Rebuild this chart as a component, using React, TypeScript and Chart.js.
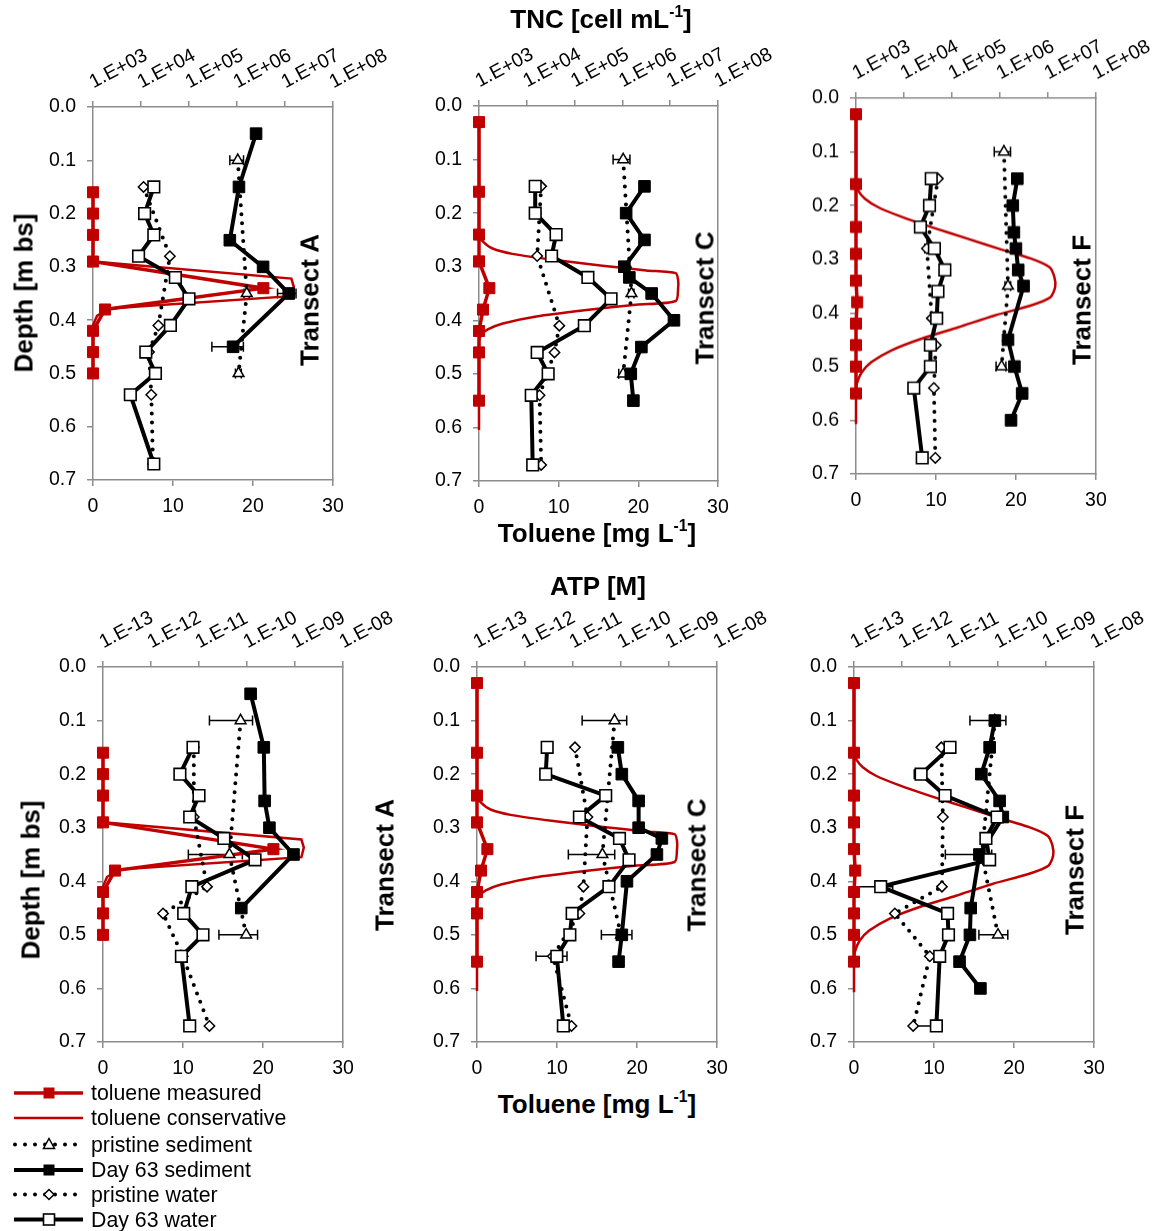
import React, { useEffect, useRef } from 'react';
import { Chart, registerables } from 'chart.js';

Chart.register(...registerables);

const FONT = '"Liberation Sans", Arial, Helvetica, sans-serif';
const RED = '#c00000';
const AXIS = '#8c8c8c';

// ---------- depth grids (m bs) ----------
const depthTicks = [0, 0.1, 0.2, 0.3, 0.4, 0.5, 0.6, 0.7];
const tolueneTicks = [0, 10, 20, 30];
const tncTicks = [1e3, 1e4, 1e5, 1e6, 1e7, 1e8];
const atpTicks = [1e-13, 1e-12, 1e-11, 1e-10, 1e-9, 1e-8];

const sedPrisDepth = [0.1, 0.35, 0.5];
const watPrisDepth = [0.15, 0.28, 0.41, 0.46, 0.54, 0.67];
const watDayDepth = [0.15, 0.2, 0.24, 0.28, 0.32, 0.36, 0.41, 0.46, 0.5, 0.54, 0.67];
const sedDayDepthA = [0.05, 0.15, 0.25, 0.3, 0.35, 0.45];
const sedDayDepthC_tnc = [0.15, 0.2, 0.25, 0.3, 0.32, 0.35, 0.4, 0.45, 0.5, 0.55];
const sedDayDepthC_atp = [0.15, 0.2, 0.25, 0.3, 0.32, 0.35, 0.4, 0.5, 0.55];
const sedDayDepthF_tnc = [0.15, 0.2, 0.25, 0.28, 0.32, 0.35, 0.45, 0.5, 0.55, 0.6];
const sedDayDepthF_atp = [0.1, 0.15, 0.2, 0.25, 0.28, 0.35, 0.45, 0.5, 0.55, 0.6];

// ---------- toluene [mg/L] ----------
const tolMeasDepthA = [0.16, 0.2, 0.24, 0.29, 0.34, 0.38, 0.42, 0.46, 0.5];
const tolMeasA = [0, 0, 0, 0, 21.3, 1.5, 0, 0, 0];
const tolConsDepthA = [0.16, 0.29, 0.322, 0.337, 0.355, 0.378, 0.392, 0.41, 0.5];
const tolConsA = [0, 0, 24.8, 25.1, 24.8, 2.0, 0.5, 0, 0];

const tolMeasDepthC = [0.03, 0.16, 0.24, 0.29, 0.34, 0.38, 0.42, 0.46, 0.55];
const tolMeasC = [0, 0, 0, 0, 1.3, 0.5, 0, 0, 0];
const tolConsDepthC = [0.03, 0.241, 0.253, 0.266, 0.276, 0.287, 0.298, 0.307, 0.312, 0.325, 0.34, 0.364, 0.371, 0.381, 0.393, 0.406, 0.417, 0.427, 0.44, 0.605];
const tolConsC = [0, 0, 0.5, 1.7, 4.2, 9.3, 15.5, 21.0, 24.7, 25.0, 25.0, 24.7, 19.7, 13.5, 7.2, 3.0, 1.1, 0.3, 0, 0];

const tolMeasDepthF = [0.03, 0.16, 0.24, 0.29, 0.34, 0.38, 0.42, 0.46, 0.5, 0.55];
const tolMeasF = [0, 0, 0, 0, 0, 0.15, 0, 0, 0, 0];
const tolConsDepthF = [0.03, 0.16, 0.172, 0.187, 0.203, 0.221, 0.24, 0.262, 0.282, 0.299, 0.315, 0.333, 0.352, 0.371, 0.386, 0.405, 0.427, 0.448, 0.47, 0.492, 0.511, 0.532, 0.551, 0.607];
const tolConsF = [0, 0, 0.25, 1.1, 2.75, 5.7, 9.4, 14.0, 18.2, 21.9, 24.2, 24.8, 24.9, 24.3, 21.9, 17.3, 12.75, 8.2, 4.4, 1.9, 0.7, 0.1, 0, 0];

// ---------- TNC [cell/mL] ----------
const tncSedPrisA = [1.04e6, 1.6e6, 1.08e6];
const tncSedPrisSdA = [3.3e5, 2e5, 1.5e5];
const tncSedDayA = [2.5e6, 1.1e6, 7.1e5, 3.5e6, 1.2e7, 8.3e5];
const tncSedDaySdA = [0, 0, 0, 0, 5e6, 5.3e5];
const tncWatPrisA = [1.13e4, 4.0e4, 2.3e4, 1.47e4, 1.64e4, 1.78e4];
const tncWatDayA = [1.85e4, 1.19e4, 1.85e4, 8.9e3, 5.2e4, 1.0e5, 4.1e4, 1.26e4, 2.0e4, 6.0e3, 1.85e4];

const tncSedPrisC = [1.04e6, 1.55e6, 1.04e6];
const tncSedPrisSdC = [4e5, 2e5, 2e5];
const tncSedDayC = [2.9e6, 1.2e6, 2.9e6, 1.1e6, 1.4e6, 4.1e6, 1.2e7, 2.5e6, 1.5e6, 1.7e6];
const tncWatPrisC = [2.0e4, 1.65e4, 4.8e4, 3.8e4, 1.85e4, 2.0e4];
const tncWatDayC = [1.5e4, 1.5e4, 4.1e4, 3.3e4, 1.9e5, 5.8e5, 1.6e5, 1.65e4, 2.8e4, 1.24e4, 1.33e4];

const tncSedPrisF = [1.21e6, 1.47e6, 1.08e6];
const tncSedPrisSdF = [4.5e5, 2e5, 2.5e5];
const tncSedDayF = [2.3e6, 1.85e6, 1.95e6, 2.15e6, 2.4e6, 3.1e6, 1.47e6, 2.0e6, 2.9e6, 1.7e6];
const tncWatPrisF = [5.1e4, 3.0e4, 3.8e4, 4.6e4, 4.2e4, 4.5e4];
const tncWatPrisSdF = [0, 3e3, 0, 0, 0, 0];
const tncWatDayF = [3.7e4, 3.4e4, 2.2e4, 4.3e4, 7.1e4, 5.1e4, 4.8e4, 3.55e4, 3.55e4, 1.6e4, 2.4e4];

// ---------- ATP [M] ----------
const atpSedPrisA = [7.35e-11, 4.3e-11, 9.6e-11];
const atpSedPrisSdA = [5.7e-11, 3.7e-11, 7e-11];
const atpSedDayA = [1.19e-10, 2.24e-10, 2.33e-10, 2.93e-10, 9.3e-10, 7.6e-11];
const atpWatPrisA = [7.8e-12, 7.8e-12, 1.47e-11, 1.78e-12, 4.6e-12, 1.65e-11];
const atpWatDayA = [7.5e-12, 4.0e-12, 1.0e-11, 6.4e-12, 3.3e-11, 1.47e-10, 7.1e-12, 4.8e-12, 1.21e-11, 4.3e-12, 6.4e-12];

const atpSedPrisC = [7.35e-11, 4.1e-11, 1.0e-10];
const atpSedPrisSdC = [5.8e-11, 3.3e-11, 0];
const atpSedDayC = [8.6e-11, 1.04e-10, 2.33e-10, 2.33e-10, 7.1e-10, 5.6e-10, 1.33e-10, 1.04e-10, 8.9e-11];
const atpSedDaySdC = [0, 0, 0, 0, 0, 0, 0, 6.5e-11, 0];
const atpWatPrisC = [1.1e-11, 2.0e-11, 1.65e-11, 1.36e-11, 3.8e-12, 9.3e-12];
const atpWatDayC = [2.9e-12, 2.7e-12, 4.8e-11, 1.36e-11, 9.3e-11, 1.47e-10, 5.6e-11, 9.6e-12, 8.6e-12, 4.6e-12, 6.3e-12];
const atpWatDaySdC = [0, 0, 0, 0, 0, 0, 0, 0, 0, 2.9e-12, 0];

const atpSedPrisF = [8.6e-11, 4.6e-11, 1.0e-10];
const atpSedPrisSdF = [0, 0, 6e-11];
const atpSedDayF = [8.6e-11, 6.7e-11, 4.5e-11, 1.08e-10, 1.26e-10, 4.1e-11, 2.7e-11, 2.6e-11, 1.58e-11, 4.3e-11];
const atpSedDaySdF = [6e-11, 0, 0, 0, 0, 3.3e-11, 0, 0, 0, 0];
const atpWatPrisF = [6.6e-12, 7.1e-12, 6.8e-12, 7.1e-13, 3.8e-12, 1.71e-12];
const atpWatPrisSdF = [0, 0, 0, 0, 0, 2.4e-12];
const atpWatDayF = [1.0e-11, 2.5e-12, 7.9e-12, 9.6e-11, 5.6e-11, 6.7e-11, 3.6e-13, 8.9e-12, 9.3e-12, 6.1e-12, 5.2e-12];
const atpWatDaySdF = [0, 7e-13, 0, 0, 0, 0, 2.8e-13, 0, 0, 0, 0];

const legendLabels = ['toluene measured', 'toluene conservative', 'pristine sediment', 'Day 63 sediment', 'pristine water', 'Day 63 water'];

// ---------- layout ----------
const YW = 70; // room for depth tick labels
const TH = 75; // room for rotated top-axis labels
const BH = 45; // room for toluene tick labels
const RP = 62; // right room for the last rotated label

type Pt = { x: number; y: number };
const pts = (vals: number[], depths: number[]): Pt[] => vals.map((v, i) => ({ x: v, y: depths[i] }));

interface Tol { measD: number[]; meas: number[]; consD: number[]; cons: number[]; tension: number }
interface Bio {
  sedPris: number[]; sedPrisSd?: number[];
  sedDayD: number[]; sedDay: number[]; sedDaySd?: number[];
  watPris: number[]; watPrisSd?: number[];
  watDay: number[]; watDaySd?: number[];
}
interface PanelSpec {
  key: string; left: number; top: number; width: number; height: number;
  topTicks: number[]; tol: Tol; bio: Bio;
}

const tolA: Tol = { measD: tolMeasDepthA, meas: tolMeasA, consD: tolConsDepthA, cons: tolConsA, tension: 0 };
const tolC: Tol = { measD: tolMeasDepthC, meas: tolMeasC, consD: tolConsDepthC, cons: tolConsC, tension: 0.25 };
const tolF: Tol = { measD: tolMeasDepthF, meas: tolMeasF, consD: tolConsDepthF, cons: tolConsF, tension: 0.25 };

const panels: PanelSpec[] = [
  { key: 'tA', left: 93, top: 107, width: 240, height: 373, topTicks: tncTicks, tol: tolA,
    bio: { sedPris: tncSedPrisA, sedPrisSd: tncSedPrisSdA, sedDayD: sedDayDepthA, sedDay: tncSedDayA, sedDaySd: tncSedDaySdA, watPris: tncWatPrisA, watDay: tncWatDayA } },
  { key: 'tC', left: 479, top: 106, width: 239, height: 375, topTicks: tncTicks, tol: tolC,
    bio: { sedPris: tncSedPrisC, sedPrisSd: tncSedPrisSdC, sedDayD: sedDayDepthC_tnc, sedDay: tncSedDayC, watPris: tncWatPrisC, watDay: tncWatDayC } },
  { key: 'tF', left: 856, top: 98, width: 240, height: 375.5, topTicks: tncTicks, tol: tolF,
    bio: { sedPris: tncSedPrisF, sedPrisSd: tncSedPrisSdF, sedDayD: sedDayDepthF_tnc, sedDay: tncSedDayF, watPris: tncWatPrisF, watPrisSd: tncWatPrisSdF, watDay: tncWatDayF } },
  { key: 'bA', left: 103, top: 666.5, width: 240, height: 375.5, topTicks: atpTicks, tol: tolA,
    bio: { sedPris: atpSedPrisA, sedPrisSd: atpSedPrisSdA, sedDayD: sedDayDepthA, sedDay: atpSedDayA, watPris: atpWatPrisA, watDay: atpWatDayA } },
  { key: 'bC', left: 477, top: 666.5, width: 240, height: 375.5, topTicks: atpTicks, tol: tolC,
    bio: { sedPris: atpSedPrisC, sedPrisSd: atpSedPrisSdC, sedDayD: sedDayDepthC_atp, sedDay: atpSedDayC, sedDaySd: atpSedDaySdC, watPris: atpWatPrisC, watDay: atpWatDayC, watDaySd: atpWatDaySdC } },
  { key: 'bF', left: 854, top: 666.5, width: 240, height: 375.5, topTicks: atpTicks, tol: tolF,
    bio: { sedPris: atpSedPrisF, sedPrisSd: atpSedPrisSdF, sedDayD: sedDayDepthF_atp, sedDay: atpSedDayF, sedDaySd: atpSedDaySdF, watPris: atpWatPrisF, watPrisSd: atpWatPrisSdF, watDay: atpWatDayF, watDaySd: atpWatDaySdF } },
];

const sciLabel = (v: number) => {
  const e = Math.round(Math.log10(v));
  const s = Math.abs(e).toString().padStart(2, '0');
  return `1.E${e < 0 ? '-' : '+'}${s}`;
};

// horizontal error bars drawn beneath the markers
const errorBars = {
  id: 'errorBars',
  beforeDatasetsDraw(chart: any) {
    const ctx = chart.ctx;
    chart.data.datasets.forEach((ds: any, i: number) => {
      if (!ds.sd) return;
      const meta = chart.getDatasetMeta(i);
      const xs = chart.scales[ds.xAxisID];
      ctx.save();
      ctx.strokeStyle = '#000';
      ctx.lineWidth = 1.5;
      ds.data.forEach((p: Pt, j: number) => {
        const e = ds.sd[j];
        if (!e) return;
        const el = meta.data[j];
        const y = el.y;
        const lo = p.x - e;
        const hi = p.x + e;
        let xl = el.x;
        let capL = false;
        if (lo > 0) {
          xl = Math.max(xs.getPixelForValue(lo), xs.left);
          capL = xs.getPixelForValue(lo) >= xs.left;
        }
        const xh = Math.min(xs.getPixelForValue(hi), xs.right);
        ctx.beginPath();
        ctx.moveTo(xl, y);
        ctx.lineTo(xh, y);
        if (capL) { ctx.moveTo(xl, y - 5); ctx.lineTo(xl, y + 5); }
        ctx.moveTo(xh, y - 5);
        ctx.lineTo(xh, y + 5);
        ctx.stroke();
      });
      ctx.restore();
    });
  },
};

function buildDatasets(p: PanelSpec) {
  const b = p.bio;
  const common = { yAxisID: 'y', showLine: true, clip: false as any, pointHoverRadius: 0 };
  const dotted = { borderDash: [0, 9], borderCapStyle: 'round' as const, borderWidth: 4, borderColor: '#000' };
  return [
    { ...common, label: 'Day 63 water', order: 0, xAxisID: 'xTop', data: pts(b.watDay, watDayDepth), sd: b.watDaySd,
      borderColor: '#000', borderWidth: 4, pointStyle: 'rect', pointRadius: 8.2, pointBackgroundColor: '#fff', pointBorderColor: '#000', pointBorderWidth: 1.6 },
    { ...common, label: 'Day 63 sediment', order: 1, xAxisID: 'xTop', data: pts(b.sedDay, b.sedDayD), sd: b.sedDaySd,
      borderColor: '#000', borderWidth: 4, pointStyle: 'rect', pointRadius: 8.2, pointBackgroundColor: '#000', pointBorderColor: '#000', pointBorderWidth: 1 },
    { ...common, ...dotted, label: 'pristine water', order: 2, xAxisID: 'xTop', data: pts(b.watPris, watPrisDepth), sd: b.watPrisSd,
      pointStyle: 'rectRot', pointRadius: 5.2, pointBackgroundColor: '#fff', pointBorderColor: '#000', pointBorderWidth: 1.5 },
    { ...common, ...dotted, label: 'pristine sediment', order: 3, xAxisID: 'xTop', data: pts(b.sedPris, sedPrisDepth), sd: b.sedPrisSd,
      pointStyle: 'triangle', pointRadius: 6.2, pointBackgroundColor: '#fff', pointBorderColor: '#000', pointBorderWidth: 1.5 },
    { ...common, label: 'toluene measured', order: 4, xAxisID: 'x', data: pts(p.tol.meas, p.tol.measD),
      borderColor: RED, borderWidth: 3.5, pointStyle: 'rect', pointRadius: 7.8, pointBackgroundColor: RED, pointBorderColor: RED, pointBorderWidth: 1 },
    { ...common, label: 'toluene conservative', order: 5, xAxisID: 'x', data: pts(p.tol.cons, p.tol.consD),
      borderColor: RED, borderWidth: 2.5, pointRadius: 0, tension: p.tol.tension },
  ];
}

function Panel({ p }: { p: PanelSpec }) {
  const ref = useRef<HTMLCanvasElement>(null);
  const cw = YW + p.width + RP;
  const ch = TH + p.height + BH;
  useEffect(() => {
    const grid = { display: true, drawOnChartArea: false, drawTicks: true, tickLength: 6, color: AXIS, lineWidth: 1.5 };
    const border = { display: true, color: AXIS, width: 1.5 };
    const tickFont = { family: FONT, size: 19.5 };
    const chart = new Chart(ref.current as HTMLCanvasElement, {
      type: 'scatter',
      data: { datasets: buildDatasets(p) as any },
      plugins: [errorBars],
      options: {
        responsive: false,
        animation: false,
        events: [],
        layout: { padding: { left: 0, top: 0, bottom: 0, right: RP } },
        plugins: { legend: { display: false }, tooltip: { enabled: false } },
        scales: {
          x: {
            type: 'linear', position: 'bottom', min: 0, max: 30,
            afterBuildTicks: (s: any) => { s.ticks = tolueneTicks.map((v) => ({ value: v })); },
            ticks: { font: tickFont, color: '#000', padding: 9, maxRotation: 0, autoSkip: false },
            grid, border,
            afterFit: (s: any) => { s.height = BH; },
          },
          xTop: {
            type: 'logarithmic', position: 'top', min: p.topTicks[0], max: p.topTicks[p.topTicks.length - 1],
            afterBuildTicks: (s: any) => { s.ticks = p.topTicks.map((v) => ({ value: v })); },
            ticks: { font: tickFont, color: '#000', padding: 7, labelOffset: 9, minRotation: 28, maxRotation: 28, autoSkip: false, callback: (v: any) => sciLabel(Number(v)) },
            grid, border,
            afterFit: (s: any) => { s.height = TH; },
          },
          y: {
            type: 'linear', position: 'left', reverse: true, min: 0, max: 0.7,
            afterBuildTicks: (s: any) => { s.ticks = depthTicks.map((v) => ({ value: v })); },
            ticks: { font: tickFont, color: '#000', padding: 11, callback: (v: any) => Number(v).toFixed(1) },
            grid, border,
            afterFit: (s: any) => { s.width = YW; },
          },
          yR: {
            type: 'linear', position: 'right', reverse: true, min: 0, max: 0.7,
            ticks: { display: false }, grid: { display: false, drawTicks: false }, border,
            afterFit: (s: any) => { s.width = 0; },
          },
        },
      } as any,
    });
    return () => chart.destroy();
  }, []);
  return (
    <canvas
      ref={ref}
      width={cw}
      height={ch}
      style={{ position: 'absolute', left: p.left - YW, top: p.top - TH, width: cw, height: ch }}
    />
  );
}

function Txt({ x, y, rot = 0, size = 26, bold = true, children }: { x: number; y: number; rot?: number; size?: number; bold?: boolean; children: React.ReactNode }) {
  return (
    <div
      style={{
        position: 'absolute', left: x, top: y, whiteSpace: 'nowrap', lineHeight: 1,
        transform: `translate(-50%, -50%) rotate(${rot}deg)`,
        font: `${bold ? 'bold ' : ''}${size}px ${FONT}`, color: '#000',
      }}
    >
      {children}
    </div>
  );
}

const Sup = ({ children }: { children: React.ReactNode }) => (
  <span style={{ fontSize: '0.6em', position: 'relative', top: '-0.7em' }}>{children}</span>
);

function Legend() {
  const rowsY = [1093, 1118, 1144.5, 1170, 1194.5, 1219.5];
  const top = 1078;
  return (
    <svg width={320} height={153} style={{ position: 'absolute', left: 0, top }}>
      {legendLabels.map((lab, i) => {
        const y = rowsY[i] - top;
        let sym: React.ReactNode = null;
        if (i === 0) sym = (<g><line x1={14} x2={83} y1={y} y2={y} stroke={RED} strokeWidth={3.5} /><rect x={43.5} y={y - 5.5} width={11} height={11} fill={RED} /></g>);
        if (i === 1) sym = <line x1={14} x2={83} y1={y} y2={y} stroke={RED} strokeWidth={2.5} />;
        if (i === 2) sym = (<g><line x1={15} x2={83} y1={y} y2={y} stroke="#000" strokeWidth={4} strokeDasharray="0 10" strokeLinecap="round" />
          <polygon points={`49,${y - 6} 54.5,${y + 4} 43.5,${y + 4}`} fill="#fff" stroke="#000" strokeWidth={1.5} /></g>);
        if (i === 3) sym = (<g><line x1={14} x2={83} y1={y} y2={y} stroke="#000" strokeWidth={4} /><rect x={43.5} y={y - 5.5} width={11} height={11} fill="#000" /></g>);
        if (i === 4) sym = (<g><line x1={15} x2={83} y1={y} y2={y} stroke="#000" strokeWidth={4} strokeDasharray="0 10" strokeLinecap="round" />
          <polygon points={`49,${y - 5} 54,${y} 49,${y + 5} 44,${y}`} fill="#fff" stroke="#000" strokeWidth={1.5} /></g>);
        if (i === 5) sym = (<g><line x1={14} x2={83} y1={y} y2={y} stroke="#000" strokeWidth={4} /><rect x={43.5} y={y - 5.5} width={11} height={11} fill="#fff" stroke="#000" strokeWidth={1.6} /></g>);
        return (
          <g key={lab}>
            {sym}
            <text x={91} y={y} dominantBaseline="central" style={{ font: `21.3px ${FONT}` }} fill="#000">{lab}</text>
          </g>
        );
      })}
    </svg>
  );
}

export default function App() {
  return (
    <div style={{ position: 'absolute', left: 0, top: 0, width: 1164, height: 1231, overflow: 'hidden', background: '#fff' }}>
      {panels.map((p) => <Panel key={p.key} p={p} />)}
      <Txt x={601} y={18.5}>TNC [cell mL<Sup>-1</Sup>]</Txt>
      <Txt x={597} y={532.5}>Toluene [mg L<Sup>-1</Sup>]</Txt>
      <Txt x={598} y={586}>ATP [M]</Txt>
      <Txt x={597} y={1104}>Toluene [mg L<Sup>-1</Sup>]</Txt>
      <Txt x={24} y={293} rot={-90}>Depth [m bs]</Txt>
      <Txt x={31} y={880} rot={-90}>Depth [m bs]</Txt>
      <Txt x={310} y={300} rot={-90}>Transect A</Txt>
      <Txt x={705} y={298} rot={-90}>Transect C</Txt>
      <Txt x={1082} y={300} rot={-90}>Transect F</Txt>
      <Txt x={385} y={865} rot={-90}>Transect A</Txt>
      <Txt x={697} y={865} rot={-90}>Transect C</Txt>
      <Txt x={1075} y={870} rot={-90}>Transect F</Txt>
      <Legend />
    </div>
  );
}
